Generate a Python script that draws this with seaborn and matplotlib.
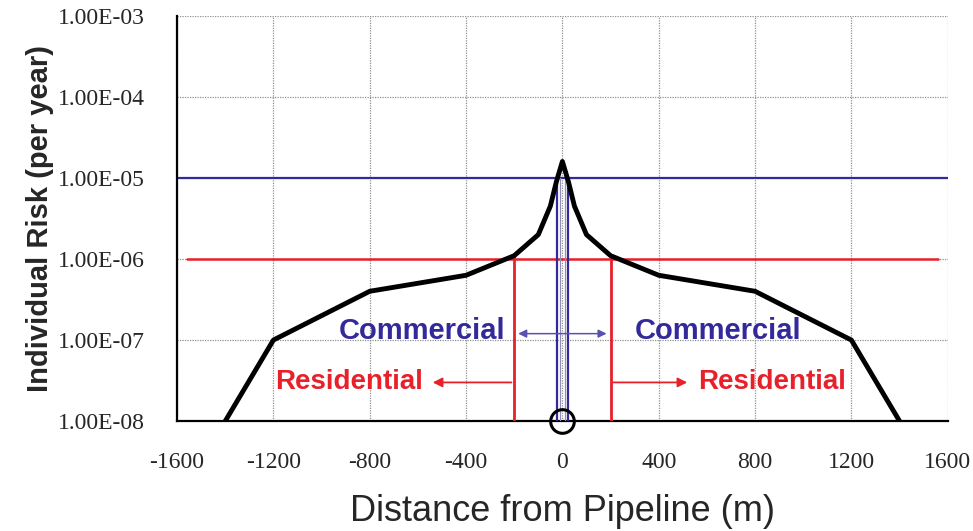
import matplotlib.pyplot as plt
import seaborn as sns
import pandas as pd

# risk transect
distance = [-1400, -1200, -800, -400, -200, -100, -50, -25, 0, 25, 50, 100, 200, 400, 800, 1200, 1400]
risk = [1e-8, 1e-7, 4e-7, 6.3e-7, 1.1e-6, 2e-6, 4.5e-6, 9e-6, 1.6e-5,
        9e-6, 4.5e-6, 2e-6, 1.1e-6, 6.3e-7, 4e-7, 1e-7, 1e-8]

commercial_limit = 1e-5
residential_limit = 1e-6
residential_edge = 200
commercial_edge = 22

xticks = [-1600, -1200, -800, -400, 0, 400, 800, 1200, 1600]
yticks = [1e-8, 1e-7, 1e-6, 1e-5, 1e-4, 1e-3]
ytick_labels = ["1.00E-08", "1.00E-07", "1.00E-06", "1.00E-05", "1.00E-04", "1.00E-03"]

red = '#e8202a'
blue = '#33299a'

sns.set_style("white")
plt.rcParams['font.family'] = ['Liberation Sans', 'DejaVu Sans']

df = pd.DataFrame({'distance': distance, 'risk': risk})

fig, ax = plt.subplots(figsize=(9.73, 5.31), dpi=100)
fig.subplots_adjust(left=0.182, right=0.974, top=0.970, bottom=0.207)

ax.set_yscale('log')
ax.set_xlim(-1600, 1600)
ax.set_ylim(1e-8, 1e-3)

# grid
for x in xticks:
    ax.axvline(x, color='#909090', lw=0.9, ls=(0, (1, 1)), zorder=0)
for y in yticks:
    ax.axhline(y, color='#909090', lw=0.9, ls=(0, (1, 1)), zorder=0)

# criteria lines
ax.axhline(commercial_limit, color=blue, lw=1.6, zorder=2)
ax.plot([-1560, 1560], [residential_limit, residential_limit], color=red, lw=1.8, zorder=2)

# residential boundary + commercial strip
for s in (-1, 1):
    ax.plot([s * residential_edge, s * residential_edge], [1e-8, 1.1e-6], color=red, lw=2, zorder=3)
    ax.plot([s * commercial_edge, s * commercial_edge], [1e-8, commercial_limit], color=blue, lw=1.6, zorder=3)
    ax.plot([s * 9, s * 9], [1e-8, commercial_limit], color='#8f8fb8', lw=0.9, zorder=3)

sns.lineplot(data=df, x='distance', y='risk', ax=ax, color='black', lw=3.5, zorder=4)

# arrows
ax.annotate('', xy=(-550, 3e-8), xytext=(-200, 3e-8),
            arrowprops=dict(arrowstyle='-|>', color=red, lw=1.3, mutation_scale=14))
ax.annotate('', xy=(530, 3e-8), xytext=(200, 3e-8),
            arrowprops=dict(arrowstyle='-|>', color=red, lw=1.3, mutation_scale=14))
ax.annotate('', xy=(-195, 1.2e-7), xytext=(195, 1.2e-7),
            arrowprops=dict(arrowstyle='<|-|>', color='#5a50b0', lw=1.1, mutation_scale=12))

ax.text(-577, 3e-8, 'Residential', color=red, fontsize=20, fontweight='bold', ha='right', va='center')
ax.text(563, 3e-8, 'Residential', color=red, fontsize=20, fontweight='bold', ha='left', va='center')
ax.text(-235, 1.3e-7, 'Commercial', color=blue, fontsize=21, fontweight='bold', ha='right', va='center')
ax.text(300, 1.3e-7, 'Commercial', color=blue, fontsize=21, fontweight='bold', ha='left', va='center')

# pipeline location
ax.plot([0], [1e-8], marker='o', ms=17, mfc='none', mec='black', mew=2.2, clip_on=False, zorder=5)

ax.set_xticks(xticks)
ax.set_xticklabels([str(x) for x in xticks], family='Liberation Serif', fontsize=17)
ax.set_yticks(yticks)
ax.set_yticklabels(ytick_labels, family='Liberation Serif', fontsize=17)
ax.minorticks_off()
ax.tick_params(axis='both', direction='inout', length=9, width=1.3, color='black')
ax.tick_params(axis='x', pad=18)
ax.tick_params(axis='y', pad=19)

for side in ('top', 'right'):
    ax.spines[side].set_visible(False)
for side in ('left', 'bottom'):
    ax.spines[side].set_color('black')
    ax.spines[side].set_linewidth(1.6)

ax.set_xlabel('Distance from Pipeline (m)', fontsize=26)
ax.set_ylabel('Individual Risk (per year)', fontsize=21, fontweight='bold')
ax.xaxis.set_label_coords(0.5, -0.18)
ax.yaxis.set_label_coords(-0.16, 0.5)

fig.savefig('out.png', dpi=100)
